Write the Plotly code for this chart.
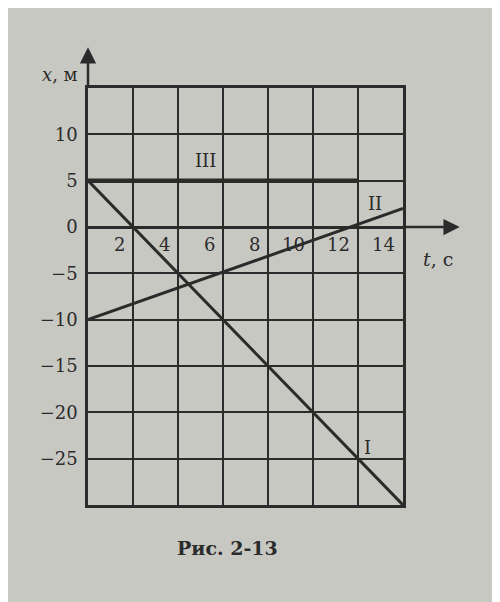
import plotly.graph_objects as go

# graph lines I, II, III (t in s, x in m)
t_I = [0, 14]
x_I = [5, -30]
t_II = [0, 14]
x_II = [-10, 2]
t_III = [0, 12]
x_III = [5, 5]

y_ticks = [10, 5, 0, -5, -10, -15, -20, -25]
t_ticks = [2, 4, 6, 8, 10, 12, 14]

ink = "#2b2b2b"
paper = "#c8c8c3"
serif = "DejaVu Serif"

fig = go.Figure()
fig.add_trace(go.Scatter(x=t_I, y=x_I, mode="lines", line=dict(color=ink, width=3)))
fig.add_trace(go.Scatter(x=t_II, y=x_II, mode="lines", line=dict(color=ink, width=3)))
fig.add_trace(go.Scatter(x=t_III, y=x_III, mode="lines", line=dict(color=ink, width=4.5)))

# tick numbers along the t axis, sitting left of each grid line
for t in t_ticks:
    fig.add_annotation(x=t, y=0, text=str(t), showarrow=False, xanchor="right", yanchor="top",
                       xshift=-6, yshift=-5, font=dict(family=serif, size=18, color=ink))

# roman numerals for the lines
fig.add_annotation(x=5.2, y=7.2, text="III", showarrow=False, font=dict(family=serif, size=18, color=ink))
fig.add_annotation(x=12.75, y=2.5, text="II", showarrow=False, font=dict(family=serif, size=18, color=ink))
fig.add_annotation(x=12.4, y=-23.8, text="I", showarrow=False, font=dict(family=serif, size=18, color=ink))

# axis arrows
fig.add_annotation(xref="paper", yref="paper", x=0, y=1.098, ax=0, ay=41, text="",
                   showarrow=True, arrowhead=2, arrowsize=1.3, arrowwidth=2.5, arrowcolor=ink)
fig.add_annotation(xref="paper", yref="y", x=1.18, y=0, ax=-57, ay=0, text="",
                   showarrow=True, arrowhead=2, arrowsize=1.3, arrowwidth=2.5, arrowcolor=ink)

# axis names and caption
fig.add_annotation(xref="paper", yref="paper", x=-0.025, y=1.063, text="<i>x</i>, м", showarrow=False,
                   xanchor="right", font=dict(family=serif, size=18, color=ink))
fig.add_annotation(xref="paper", yref="y", x=1.165, y=-3.5, text="<i>t</i>, с", showarrow=False,
                   font=dict(family=serif, size=19, color=ink))
fig.add_annotation(xref="paper", yref="paper", x=0.444, y=-0.135, text="<b>Рис. 2-13</b>", showarrow=False,
                   font=dict(family=serif, size=19, color=ink))

fig.update_layout(
    width=500, height=602,
    margin=dict(l=80, r=105, t=80, b=105),
    paper_bgcolor=paper, plot_bgcolor=paper,
    showlegend=False,
    xaxis=dict(range=[0, 14], dtick=2, showticklabels=False, showgrid=True, gridcolor=ink, gridwidth=2.2,
               zeroline=False, showline=True, linecolor=ink, linewidth=2.5, mirror=True, fixedrange=True),
    yaxis=dict(range=[-30, 15], tickvals=y_ticks, ticktext=[str(v).replace("-", "−") for v in y_ticks],
               showgrid=True, gridcolor=ink, gridwidth=2.2, zeroline=True, zerolinecolor=ink, zerolinewidth=2.5,
               showline=True, linecolor=ink, linewidth=2.5, mirror=True, fixedrange=True,
               ticklabelstandoff=4, tickfont=dict(family=serif, size=18, color=ink)),
)

fig.write_html("out.html")
